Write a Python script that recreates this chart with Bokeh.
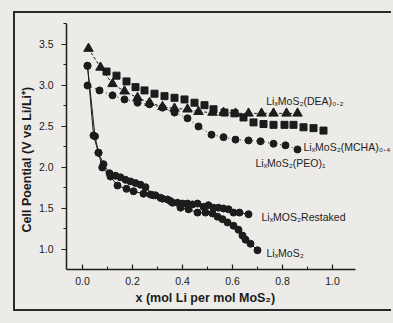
from bokeh.plotting import figure
from bokeh.layouts import column
from bokeh.models import ColumnDataSource, Range1d, SingleIntervalTicker, PrintfTickFormatter, Title
from bokeh.core.properties import value
from bokeh.embed import file_html
from bokeh.resources import INLINE

# ---- data ----
dea_x = [0.024, 0.072, 0.120, 0.168, 0.220, 0.268, 0.320, 0.368, 0.420, 0.464,
         0.520, 0.564, 0.612, 0.664, 0.716, 0.764, 0.816, 0.860]
dea_y = [3.45, 3.22, 3.02, 2.93, 2.85, 2.79, 2.74, 2.72, 2.71, 2.68,
         2.67, 2.67, 2.66, 2.66, 2.66, 2.66, 2.66, 2.66]

peo_x = [0.096, 0.136, 0.176, 0.212, 0.248, 0.288, 0.328, 0.368, 0.408, 0.448, 0.488, 0.524,
         0.568, 0.608, 0.644, 0.684, 0.724, 0.764, 0.808, 0.844, 0.884, 0.924, 0.964]
peo_y = [3.17, 3.12, 3.05, 2.98, 2.94, 2.90, 2.87, 2.85, 2.83, 2.79, 2.76, 2.71,
         2.67, 2.66, 2.61, 2.55, 2.53, 2.52, 2.52, 2.52, 2.49, 2.48, 2.45]

mcha_x = [0.020, 0.068, 0.120, 0.168, 0.220, 0.268, 0.320, 0.368, 0.420, 0.464,
          0.516, 0.564, 0.612, 0.664, 0.712, 0.764, 0.812, 0.860]
mcha_y = [3.00, 2.94, 2.88, 2.83, 2.79, 2.77, 2.73, 2.67, 2.60, 2.50,
          2.40, 2.37, 2.34, 2.33, 2.32, 2.29, 2.27, 2.22]

restacked_x = [0.020, 0.050, 0.064, 0.084, 0.108, 0.132, 0.152, 0.172, 0.192, 0.212,
               0.232, 0.252, 0.284, 0.312, 0.340, 0.360, 0.380, 0.400, 0.420, 0.440,
               0.460, 0.484, 0.504, 0.524, 0.544, 0.564, 0.584, 0.604, 0.628, 0.664]
restacked_y = [3.24, 2.38, 2.18, 2.04, 1.93, 1.90, 1.88, 1.85, 1.83, 1.81,
               1.79, 1.76, 1.66, 1.63, 1.61, 1.57, 1.57, 1.56, 1.56, 1.55,
               1.56, 1.52, 1.54, 1.51, 1.51, 1.50, 1.49, 1.45, 1.45, 1.43]

mos2_x = [0.020, 0.044, 0.064, 0.079, 0.112, 0.140, 0.176, 0.204, 0.244, 0.272,
          0.292, 0.320, 0.352, 0.392, 0.424, 0.460, 0.492, 0.520, 0.540, 0.560,
          0.580, 0.604, 0.624, 0.640, 0.652, 0.672, 0.700]
mos2_y = [3.24, 2.39, 2.18, 2.00, 1.89, 1.78, 1.74, 1.71, 1.68, 1.67,
          1.66, 1.62, 1.59, 1.51, 1.49, 1.45, 1.45, 1.44, 1.40, 1.37,
          1.33, 1.29, 1.24, 1.17, 1.12, 1.07, 0.99]

label_text = ["LiₓMoS₂(DEA)₀.₂", "LiₓMoS₂(MCHA)₀.₄", "LiₓMoS₂(PEO)₁",
              "LiₓMOS₂Restaked", "LiₓMoS₂"]
label_x = [0.735, 0.884, 0.692, 0.716, 0.736]
label_y = [2.805, 2.256, 2.049, 1.40, 0.963]

x_title = "x (mol Li per mol MoS₂)"
y_title = "Cell Poential (V vs Li/Li⁺)"

# ---- figure ----
BG = "#ecebe7"
INK = "#1c1c1c"
FONT = "Liberation Sans"

fig = figure(width=378, height=300, output_backend="svg", toolbar_location=None,
             x_range=Range1d(-0.064, 1.244), y_range=Range1d(0.756, 3.756),
             min_border_left=51, min_border_right=0, min_border_top=10, min_border_bottom=44)
fig.xgrid.visible = False
fig.ygrid.visible = False
fig.outline_line_color = None
fig.background_fill_color = BG
fig.border_fill_color = BG
fig.styles = {"border-left": "2px solid #2a2a2a", "border-top": "2px solid #2a2a2a",
              "border-bottom": "2px solid #2a2a2a"}

xa = fig.xaxis[0]
xa.ticker = SingleIntervalTicker(interval=0.2, num_minor_ticks=2)
xa.formatter = PrintfTickFormatter(format="%.1f")
xa.bounds = (-0.064, 1.092)
xa.major_tick_in = 5
xa.major_tick_out = 0
xa.minor_tick_in = 3
xa.minor_tick_out = 0
xa.major_label_standoff = 7

ya = fig.yaxis[0]
ya.ticker = SingleIntervalTicker(interval=0.5, num_minor_ticks=2)
ya.formatter = PrintfTickFormatter(format="%.1f")
ya.major_tick_in = 0
ya.major_tick_out = 5
ya.minor_tick_in = 0
ya.minor_tick_out = 3
ya.major_label_standoff = 8

for ax in (xa, ya):
    ax.axis_line_color = INK
    ax.axis_line_width = 1.5
    ax.major_tick_line_color = INK
    ax.major_tick_line_width = 1.2
    ax.minor_tick_line_color = INK
    ax.minor_tick_line_width = 1.0
    ax.major_label_text_font = FONT
    ax.major_label_text_font_size = "10.5px"
    ax.major_label_text_color = INK

# axis titles (placed like the original, off-centre)
fig.add_layout(Title(text=x_title, align="left", offset=69, standoff=2,
                     text_font=FONT, text_font_size="12.5px", text_font_style="bold",
                     text_color=INK), "below")
fig.add_layout(Title(text=y_title, align="left", offset=37, standoff=4,
                     text_font=FONT, text_font_size="12.5px", text_font_style="bold",
                     text_color=INK), "left")

# lines
fig.line(mos2_x, mos2_y, line_color=INK, line_width=1)
fig.line(restacked_x, restacked_y, line_color=INK, line_width=1)
fig.line(mcha_x, mcha_y, line_color=INK, line_width=1, line_dash="1 3")
fig.line(dea_x, dea_y, line_color=INK, line_width=1, line_dash="3 2")

# markers
fig.scatter(peo_x, peo_y, marker="square", size=7, fill_color=INK, line_color=INK)
fig.scatter(dea_x, dea_y, marker="triangle", size=9.5, fill_color=INK, line_color=INK)
fig.scatter(mcha_x, mcha_y, marker="circle", size=7, fill_color=INK, line_color=INK)
fig.scatter(restacked_x, restacked_y, marker="circle", size=7, fill_color=INK, line_color=INK)
fig.scatter(mos2_x, mos2_y, marker="circle", size=7, fill_color=INK, line_color=INK)

# labels
lab = ColumnDataSource(dict(x=label_x, y=label_y, t=label_text))
fig.text(x="x", y="y", text="t", source=lab, text_font=value(FONT), text_font_size="10.5px",
         text_baseline="middle", text_align="left", text_color=INK)

p = column(fig, width=393, height=323,
           styles={"background-color": BG, "padding-left": "13px", "padding-top": "11px"})

open("out.html", "w").write(file_html(p, INLINE))
